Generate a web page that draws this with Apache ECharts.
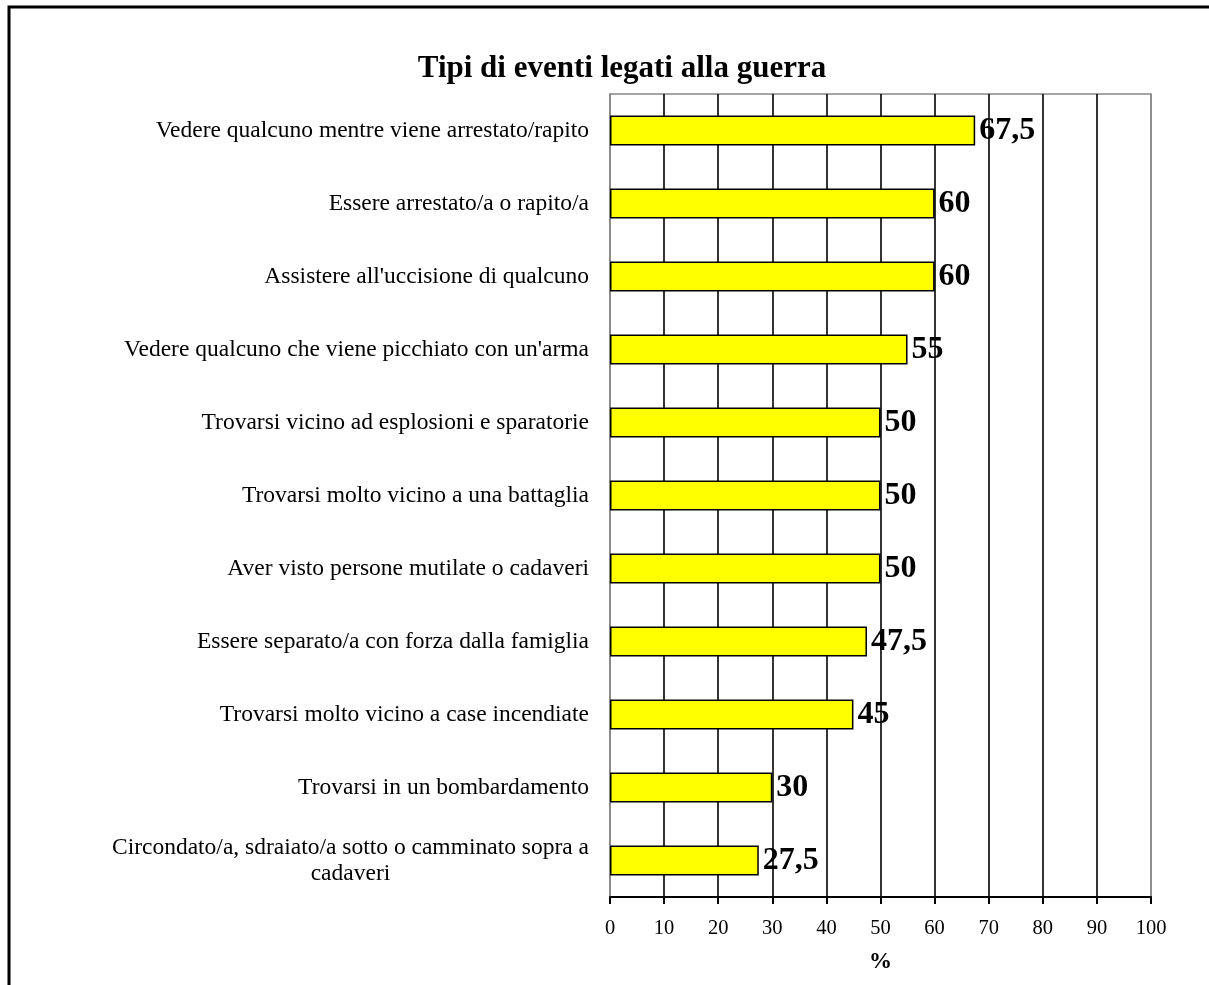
<!DOCTYPE html>
<html>
<head>
<meta charset="utf-8">
<script src="https://cdn.jsdelivr.net/npm/echarts@6/dist/echarts.min.js"></script>
<style>
  html, body { margin: 0; padding: 0; background: #fff; }
  #chart { width: 1209px; height: 985px; }
</style>
</head>
<body>
<div id="chart"></div>
<script>
// War-related event types, percentage of respondents
const chartTitle = 'Tipi di eventi legati alla guerra';
const categories = [
  'Vedere qualcuno mentre viene arrestato/rapito',
  'Essere arrestato/a o rapito/a',
  "Assistere all'uccisione di qualcuno",
  "Vedere qualcuno che viene picchiato con un'arma",
  'Trovarsi vicino ad esplosioni e sparatorie',
  'Trovarsi molto vicino a una battaglia',
  'Aver visto persone mutilate o cadaveri',
  'Essere separato/a con forza dalla famiglia',
  'Trovarsi molto vicino a case incendiate',
  'Trovarsi in un bombardamento',
  'Circondato/a, sdraiato/a sotto o camminato sopra a\ncadaveri'
];
const values = [67.5, 60, 60, 55, 50, 50, 50, 47.5, 45, 30, 27.5];
const xTicks = [0, 10, 20, 30, 40, 50, 60, 70, 80, 90, 100];
const xAxisName = '%';

const serif = '"Liberation Serif", "DejaVu Serif", serif';

// Category labels: wrapped lines are centred within the label block
function catLabel(v) {
  const lines = v.split('\n');
  if (lines.length === 1) return v;
  return lines.map(l => '{c|' + l + '}').join('\n');
}

const chart = echarts.init(document.getElementById('chart'));
chart.setOption({
  animation: false,
  backgroundColor: '#fff',
  textStyle: { fontFamily: serif, color: '#000' },
  title: {
    text: chartTitle,
    left: 617,
    textAlign: 'center',
    top: 48,
    textStyle: { fontFamily: serif, fontSize: 31, fontWeight: 'bold', color: '#000' }
  },
  graphic: [{
    type: 'rect',
    shape: { x: 9, y: 7, width: 1400, height: 1200 },
    style: { fill: 'none', stroke: '#000', lineWidth: 3 },
    silent: true
  }],
  grid: {
    left: 610, right: 58, top: 94, bottom: 88,
    show: true, borderColor: '#888', borderWidth: 1.5, containLabel: false
  },
  xAxis: {
    type: 'value',
    min: 0, max: 100, interval: 10,
    name: xAxisName,
    nameLocation: 'middle',
    nameGap: 54,
    nameTextStyle: { fontFamily: serif, fontSize: 23, fontWeight: 'bold', color: '#000' },
    axisLine: { show: true, lineStyle: { color: '#000', width: 2 } },
    axisTick: { show: true, length: 7, lineStyle: { color: '#000', width: 2 } },
    axisLabel: {
      fontFamily: serif, fontSize: 20.5, color: '#000', margin: 21,
      formatter: v => xTicks.includes(v) ? String(v) : ''
    },
    splitLine: {
      show: true,
      lineStyle: { color: ['#888', '#000', '#000', '#000', '#000', '#000', '#000', '#000', '#000', '#000', '#888'], width: 1.6 }
    }
  },
  yAxis: {
    type: 'category',
    data: categories,
    inverse: true,
    axisLine: { show: true, lineStyle: { color: '#888', width: 1.5 } },
    axisTick: { show: false },
    axisLabel: {
      fontFamily: serif, fontSize: 23.5, color: '#000', margin: 21, lineHeight: 26,
      formatter: catLabel,
      rich: { c: { align: 'center', fontFamily: serif, fontSize: 23.5, color: '#000', lineHeight: 26 } }
    },
    splitLine: { show: false }
  },
  series: [{
    type: 'bar',
    data: values,
    barWidth: 30,
    itemStyle: { color: '#FFFF00', borderColor: '#000', borderWidth: 1.5 },
    label: {
      show: true,
      position: 'right',
      distance: 4,
      fontFamily: serif,
      fontSize: 32,
      fontWeight: 'bold',
      color: '#000',
      formatter: p => String(p.value).replace('.', ',')
    }
  }]
});
</script>
</body>
</html>
